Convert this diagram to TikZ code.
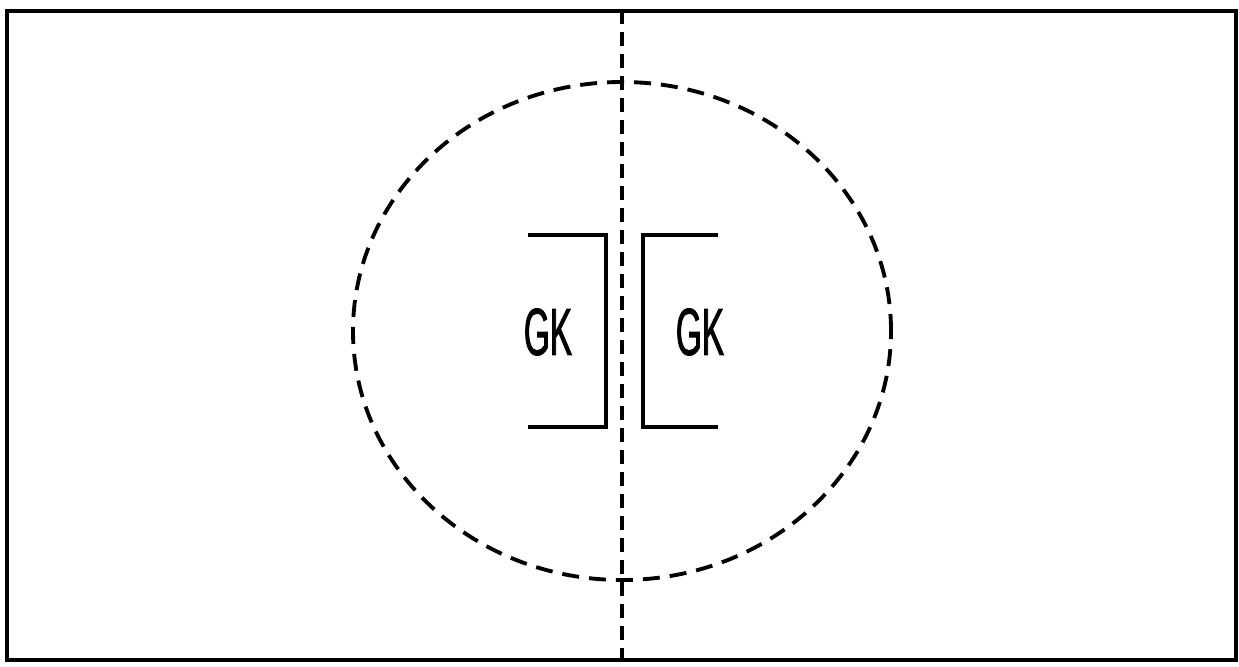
\documentclass[tikz,border=0pt]{standalone}
\usepackage{fontspec}
\usepackage{tikz}
\usetikzlibrary{positioning,calc}
\newfontfamily\gkfont[FakeStretch=0.5,FakeBold=1.2]{Liberation Sans}

\begin{document}
\begin{tikzpicture}[
    frame/.style={draw, line width=1.1pt},
    midline/.style={line width=1.1pt, dash pattern=on 0.14cm off 0.08cm},
    circleline/.style={line width=1.1pt, dash pattern=on 0.17cm off 0.1cm},
    goal/.style={line width=1pt},
    label/.style={font=\gkfont\fontsize{19}{21}\selectfont, inner sep=0pt}
]
\useasboundingbox (0,0) rectangle (12.39,6.66);
\draw[frame] (0.07,0.06) rectangle (12.36,6.55);

% centre line and circle
\coordinate (top) at (6.22,6.56);
\coordinate (bottom) at (6.22,0.06);
\draw[midline] (top) -- (bottom);
\draw[circleline] (6.22,3.35) ellipse [x radius=2.69, y radius=2.49];

% goal areas
\draw[goal] (5.28,4.31) -- (6.06,4.31) -- (6.06,2.39) -- (5.28,2.39);
\draw[goal] (7.18,4.31) -- (6.43,4.31) -- (6.43,2.39) -- (7.18,2.39);

\node[label] (gkleft) at (5.48,3.34) {GK};
\node[label] (gkright) at (7.00,3.34) {GK};
\end{tikzpicture}
\end{document}
